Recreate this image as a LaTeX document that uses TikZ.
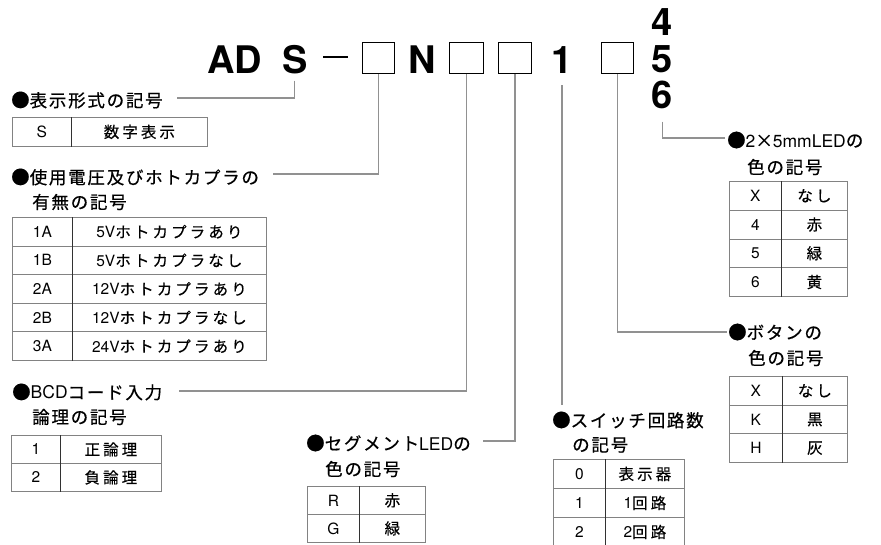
\documentclass[tikz,border=0pt]{standalone}
\usepackage{fontspec}
\setmainfont{TeX Gyre Heros}
\newfontfamily\jplbl[LetterSpace=10,FakeBold=0.6]{Noto Sans CJK JP}
\newfontfamily\jptab[LetterSpace=20,FakeBold=0.4]{Noto Sans CJK JP}
\newfontfamily\latn{TeX Gyre Heros}
\newcommand{\lt}[1]{{\latn #1}}
\newcommand{\bul}{{\fontsize{18.5}{20}\selectfont ●}}
\definecolor{connc}{RGB}{145,145,145}
\definecolor{tabc}{RGB}{130,130,130}
\definecolor{divc}{RGB}{50,50,50}
\newcommand{\jtab}[7]{%
  \foreach \k/\v [count=\i from 0] in {#7}{
    \node[cell, font=\latn\fontsize{15.5}{18}\selectfont, minimum width=#4pt, minimum height=#6pt] (#1k\i) at (#2,{#3+\i*#6}) {\k};
    \node[cell, minimum width={(#5-#4)*1pt}, minimum height=#6pt] (#1v\i) at ({#2+#4},{#3+\i*#6}) {\v};
    \draw[divider] (#1v\i.north west) -- (#1v\i.south west);
  }}
\begin{document}
\begin{tikzpicture}[x=1pt,y=-1pt,
  title/.style={font=\fontsize{38}{38}\selectfont\bfseries, inner sep=0, anchor=base},
  codebox/.style={draw=black, line width=0.9pt, minimum width=32pt, minimum height=31pt, inner sep=0, anchor=north west},
  conn/.style={draw=connc, line width=1.1pt},
  lbl/.style={font=\jplbl\fontsize{17.5}{20}\selectfont, inner sep=0, anchor=west},
  cell/.style={draw=tabc, line width=0.8pt, inner sep=0, anchor=north west, font=\jptab\fontsize{15.5}{18}\selectfont},
  divider/.style={draw=divc, line width=0.8pt}]
\useasboundingbox (0,0) rectangle (881,544);
% title
\node[title, anchor=base west] (tAD) at (207,73) {AD};
\node[title, anchor=base west] (tS) at (282,73) {S};
\draw[line width=2.2pt] (323,57) -- (348,57);
\node[codebox] (b1) at (362,42) {};
\node[title, anchor=base west] (tN) at (408,73) {N};
\node[codebox, minimum width=34pt] (b2) at (449,42) {};
\node[codebox, minimum width=33pt] (b3) at (498,42) {};
\node[title] (t1) at (562,73) {1};
\node[codebox] (b4) at (601,42) {};
\node[title] (t4) at (662.5,35) {4};
\node[title] (t5) at (662.5,72) {5};
\node[title] (t6) at (662.5,108) {6};
% labels
\node[lbl] (l1) at (11,100) {\bul 表示形式の記号};
\node[lbl] (l2a) at (11,177) {\bul 使用電圧及びホトカプラの};
\node[lbl] (l2b) at (32,202) {有無の記号};
\node[lbl] (l3a) at (12,392) {\bul\lt{BCD}コード入力};
\node[lbl] (l3b) at (32,417) {論理の記号};
\node[lbl] (l4a) at (306,443) {\bul セグメント\lt{LED}の};
\node[lbl] (l4b) at (325,469) {色の記号};
\node[lbl] (l5a) at (552,420) {\bul スイッチ回路数};
\node[lbl] (l5b) at (572,445) {の記号};
\node[lbl] (l6a) at (728,332) {\bul ボタンの};
\node[lbl] (l6b) at (748,358) {色の記号};
\node[lbl] (l7a) at (727,140) {\bul\lt{2}×\lt{5mmLED}の};
\node[lbl] (l7b) at (747,167) {色の記号};
% connector ends
\coordinate (e1) at (177,98);
\coordinate (e2) at (273,174);
\coordinate (e3) at (179,391);
\coordinate (e4) at (483,441);
\coordinate (e5) at (562,405);
\coordinate (e6) at (727,332);
\coordinate (e7) at (725,138);
\draw[conn] ([yshift=-7pt]tS.south) |- (e1);
\draw[conn] (b1.south) |- (e2);
\draw[conn] (b2.south) |- (e3);
\draw[conn] (b3.south) |- (e4);
\draw[conn] ([yshift=-12pt]t1.south) -- (e5);
\draw[conn] (b4.south) |- (e6);
\draw[conn] ([yshift=-13pt]t6.south) |- (e7);
% tables
\jtab{Ta}{12}{117}{59}{195}{29}{S/数字表示}
\jtab{Tb}{12}{217}{60}{254}{28.6}{1A/\lt{5V}ホトカプラあり,1B/\lt{5V}ホトカプラなし,2A/\lt{12V}ホトカプラあり,2B/\lt{12V}ホトカプラなし,3A/\lt{24V}ホトカプラあり}
\jtab{Tc}{11}{435}{49}{150}{28}{1/正論理,2/負論理}
\jtab{Td}{307}{486}{52}{118}{28}{R/赤,G/緑}
\jtab{Te}{553}{459}{52}{131}{29}{0/表示器,1/\lt{1}回路,2/\lt{2}回路}
\jtab{Tf}{729}{376}{53}{118}{28.7}{X/なし,K/黒,H/灰}
\jtab{Tg}{729}{181}{52}{118}{28.75}{X/なし,4/赤,5/緑,6/黄}
\end{tikzpicture}
\end{document}
